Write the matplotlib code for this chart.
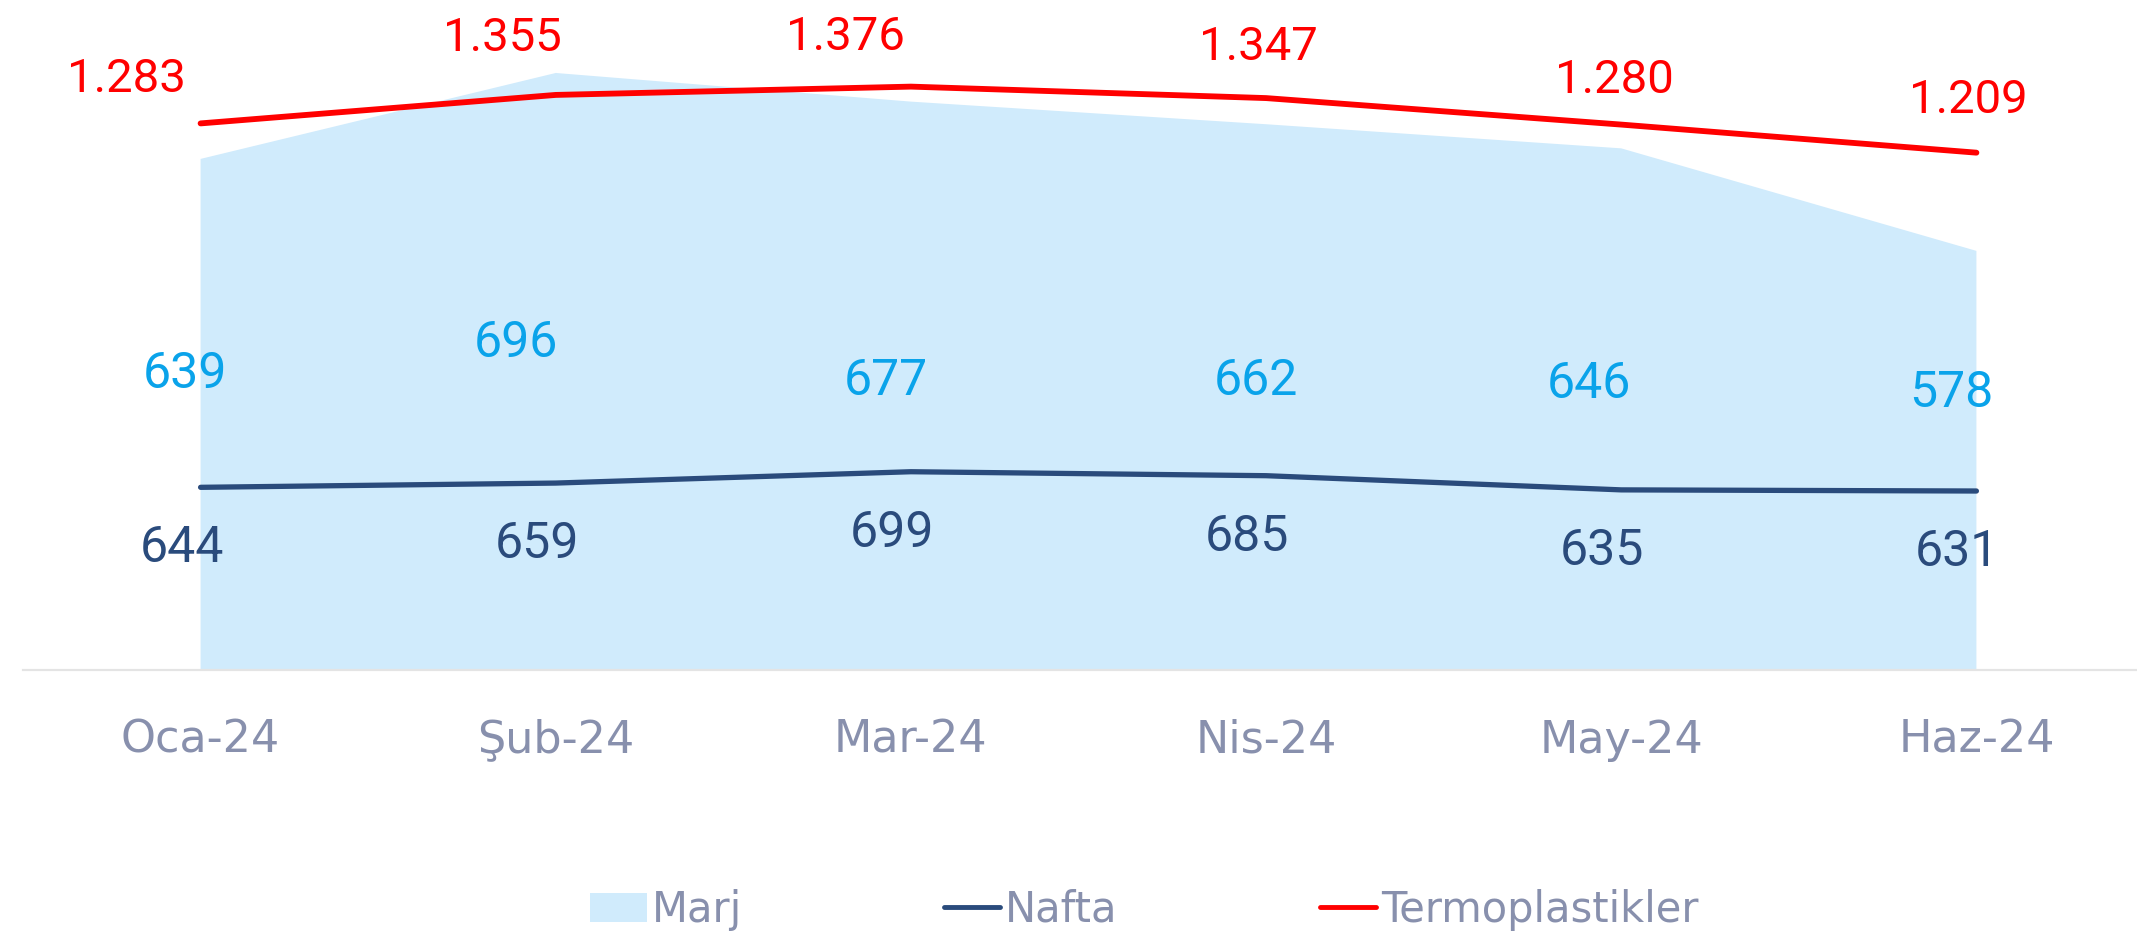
import matplotlib
matplotlib.use("Agg")
import matplotlib.pyplot as plt
from matplotlib.lines import Line2D
from matplotlib.patches import Patch

# ── Data ──────────────────────────────────────────────────────────────────────
months = ["Oca-24", "Şub-24", "Mar-24", "Nis-24", "May-24", "Haz-24"]
marj = [639, 696, 677, 662, 646, 578]
nafta = [644, 659, 699, 685, 635, 631]
termo = [1283, 1355, 1376, 1347, 1280, 1209]

# ── Style ─────────────────────────────────────────────────────────────────────
C_AREA = "#D0EBFC"
C_MARJ_TXT = "#0AA3EA"
C_NAFTA = "#2A4B7C"
C_TERMO = "#FF0000"
C_TICK = "#8890AD"
LABEL_FONT = ["Roboto", "DejaVu Sans"]

# label offsets in pixels (dx, dy), dy = baseline above the point
termo_off = [(-74, 31), (-53, 44), (-65, 37), (-8, 38), (-7, 32), (-8, 40)]
marj_off = [(-16, -229), (-40, -284), (-25, -293), (-10, -271), (-32, -250), (-25, -156)]
nafta_off = (-19, -75)

plt.rcParams["font.family"] = ["DejaVu Sans"]

fig = plt.figure(figsize=(21.37, 9.41), dpi=100)
ax = fig.add_axes([23 / 2137, 1 - 670 / 941, 2131 / 2137, 670 / 941])
ax_n = ax.twinx()
ax_t = ax.twinx()

xs = list(range(len(months)))

# Marj area
ax.fill_between(xs, marj, 0, color=C_AREA, linewidth=0, zorder=1)
ax.set_ylim(300, 744.4)
for x, v, (dx, dy) in zip(xs, marj, marj_off):
    ax.annotate(str(v), (x, v), xytext=(dx, dy), textcoords="offset pixels",
                ha="center", va="baseline", fontsize=36, color=C_MARJ_TXT,
                family=LABEL_FONT, zorder=5)

# Nafta line
ax_n.plot(xs, nafta, color=C_NAFTA, linewidth=3.8, solid_capstyle="round",
          solid_joinstyle="round")
ax_n.set_ylim(0, 2362)
for x, v in zip(xs, nafta):
    ax_n.annotate(str(v), (x, v), xytext=nafta_off, textcoords="offset pixels",
                  ha="center", va="baseline", fontsize=36, color=C_NAFTA,
                  family=LABEL_FONT)

# Termoplastikler line
ax_t.plot(xs, termo, color=C_TERMO, linewidth=4.2, solid_capstyle="round",
          solid_joinstyle="round")
ax_t.set_ylim(-99, 1595)
for x, v, (dx, dy) in zip(xs, termo, termo_off):
    txt = f"{v:,}".replace(",", ".")
    ax_t.annotate(txt, (x, v), xytext=(dx, dy), textcoords="offset pixels",
                  ha="center", va="baseline", fontsize=34, color=C_TERMO,
                  family=LABEL_FONT)

# Axes cosmetics
ax.set_xlim(-0.5, 5.5)
ax.set_xticks(xs)
ax.set_xticklabels(months, fontsize=32, color=C_TICK)
ax.tick_params(axis="x", length=0, pad=35)
for a in (ax, ax_n, ax_t):
    for side in ("top", "left", "right"):
        a.spines[side].set_visible(False)
    a.set_yticks([])
ax_n.spines["bottom"].set_visible(False)
ax_t.spines["bottom"].set_visible(False)
ax.spines["bottom"].set_color("#E4E4E4")
ax.spines["bottom"].set_linewidth(1.6)
ax.spines["bottom"].set_zorder(2)

# Legend
handles = [
    Patch(facecolor=C_AREA, edgecolor="none", label="Marj"),
    Line2D([0], [0], color=C_NAFTA, linewidth=3.5, solid_capstyle="round", label="Nafta"),
    Line2D([0], [0], color=C_TERMO, linewidth=3.5, solid_capstyle="round", label="Termoplastikler"),
]
leg = fig.legend(handles=handles, loc="center", bbox_to_anchor=(0.5355, 0.033),
                 ncol=3, frameon=False, fontsize=30, handlelength=1.35,
                 handletextpad=0.12, columnspacing=4.85, borderaxespad=0)
for t in leg.get_texts():
    t.set_color(C_TICK)

fig.savefig("out.png", dpi=100)
